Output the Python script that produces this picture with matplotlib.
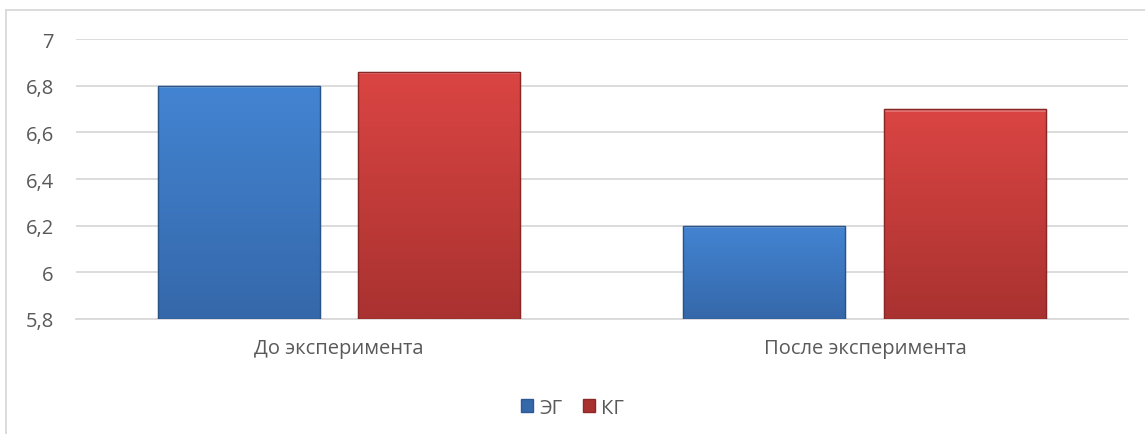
import numpy as np
import matplotlib
matplotlib.use("Agg")
import matplotlib.pyplot as plt
from matplotlib.lines import Line2D
from matplotlib.patches import Rectangle

categories = ["До эксперимента", "После эксперимента"]
series_names = ["ЭГ", "КГ"]
eg_values = [6.8, 6.2]
kg_values = [6.86, 6.7]
y_ticks = [5.8, 6.0, 6.2, 6.4, 6.6, 6.8, 7.0]

# top / bottom shades for the gradient fill
blue = ("#4384d2", "#3568aa")
red = ("#da4543", "#a93230")

plt.rcParams["font.family"] = ["Open Sans", "DejaVu Sans"]
text_color = "#595959"
fs = 14.5

fig = plt.figure(figsize=(11.45, 4.35), dpi=100)
ax = fig.add_axes([0.0664, 0.2644, 0.9186, 0.6436])

x = np.arange(len(categories))
width = 0.308
offset = 0.191

bars_eg = ax.bar(x - offset, eg_values, width, bottom=0, color=blue[0],
                 edgecolor="#2d5a94", linewidth=0.8, zorder=3)
bars_kg = ax.bar(x + offset, kg_values, width, bottom=0, color=red[0],
                 edgecolor="#8c2826", linewidth=0.8, zorder=3)

ax.set_ylim(5.8, 7.0)
ax.set_xlim(-0.5, 1.5)


def shade(bars, colors):
    # vertical gradient clipped to each bar, lighter near the top
    top = np.array(matplotlib.colors.to_rgb(colors[0]))
    bot = np.array(matplotlib.colors.to_rgb(colors[1]))
    for b in bars:
        x0 = b.get_x()
        x1 = x0 + b.get_width()
        y1 = b.get_height()
        y0 = ax.get_ylim()[0]
        t = np.linspace(0, 1, 100)[:, None]
        img = top * (1 - t[..., None]) + bot * t[..., None]
        img = np.repeat(img, 2, axis=1)
        im = ax.imshow(img, extent=(x0, x1, y0, y1), aspect="auto",
                       zorder=3.5, interpolation="bilinear")
        im.set_clip_path(b)
        # light bevel along the top edge
        ax.add_patch(Rectangle((x0, y1 - 0.012), x1 - x0, 0.012,
                               facecolor="white", alpha=0.25, linewidth=0,
                               zorder=3.6))
        ax.add_patch(Rectangle((x0, y0), x1 - x0, y1 - y0, fill=False,
                               edgecolor=bot * 0.8, linewidth=1.0, zorder=3.7))


shade(bars_eg, blue)
shade(bars_kg, red)
ax.set_xlim(-0.5, 1.5)
ax.set_ylim(5.8, 7.0)

ax.set_yticks(y_ticks)
ax.set_yticklabels([f"{v:g}".replace(".", ",") for v in y_ticks])
ax.set_xticks(x)
ax.set_xticklabels(categories)
ax.tick_params(axis="both", length=0, labelsize=fs, colors=text_color)
ax.tick_params(axis="y", pad=16)
ax.tick_params(axis="x", pad=14)

ax.yaxis.grid(True, color="#d9d9d9", linewidth=1.3, zorder=0)
ax.set_axisbelow(True)
for s in ["top", "right", "left"]:
    ax.spines[s].set_visible(False)
ax.spines["bottom"].set_color("#d9d9d9")
ax.spines["bottom"].set_linewidth(1.3)

handles = [Rectangle((0, 0), 1, 1, facecolor=blue[1], edgecolor="#2d5a94"),
           Rectangle((0, 0), 1, 1, facecolor=red[1], edgecolor="#8c2826")]
fig.legend(handles, series_names, loc="center", bbox_to_anchor=(0.5, 0.06),
           ncol=2, frameon=False, fontsize=fs, labelcolor=text_color,
           handlelength=0.6, handleheight=0.6, handletextpad=0.3,
           columnspacing=1.0)

# outer chart frame (left and top edges)
fig.add_artist(Line2D([0.0055, 0.0055], [0.0, 0.975], color="#d9d9d9",
                      linewidth=1.3, transform=fig.transFigure))
fig.add_artist(Line2D([0.0055, 1.0], [0.975, 0.975], color="#d9d9d9",
                      linewidth=1.3, transform=fig.transFigure))

fig.savefig("out.png", dpi=100)
